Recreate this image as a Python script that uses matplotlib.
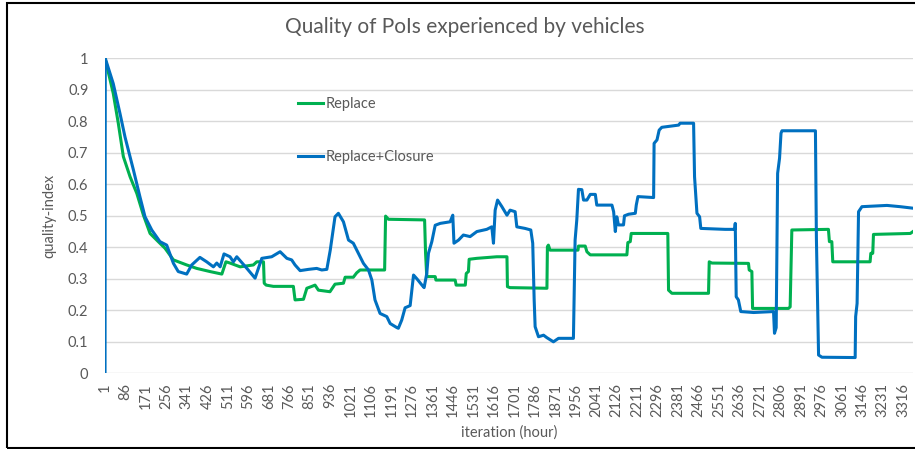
import numpy as np
import matplotlib.pyplot as plt

# values (iteration, quality-index) breakpoints
replace_x = [1, 35, 56, 77, 105, 133, 160, 188, 222, 250, 285, 340, 382, 437, 486, 503,
             520, 562, 617, 631, 659, 662, 670, 700, 783, 790, 825, 839, 860, 873, 887,
             935, 956, 991, 998, 1032, 1046, 1060, 1162, 1166, 1178, 1328, 1332, 1337,
             1372, 1375, 1455, 1459, 1497, 1501, 1510, 1513, 1545, 1628, 1670, 1672,
             1683, 1836, 1838, 1842, 1849, 1965, 1967, 1995, 2002, 2016, 2168, 2172,
             2182, 2186, 2338, 2341, 2355, 2507, 2510, 2521, 2673, 2676, 2687, 2690,
             2839, 2846, 2853, 3005, 3009, 3019, 3023, 3178, 3181, 3189, 3192, 3345, 3356]
replace_y = [1.0, 0.889, 0.794, 0.688, 0.624, 0.571, 0.503, 0.444, 0.418, 0.397, 0.36,
             0.344, 0.333, 0.323, 0.315, 0.354, 0.35, 0.338, 0.344, 0.354, 0.354, 0.286,
             0.28, 0.276, 0.276, 0.233, 0.235, 0.27, 0.276, 0.28, 0.264, 0.259, 0.283,
             0.286, 0.305, 0.305, 0.319, 0.328, 0.328, 0.499, 0.489, 0.487, 0.381, 0.307,
             0.307, 0.296, 0.296, 0.28, 0.28, 0.317, 0.323, 0.362, 0.365, 0.37, 0.37,
             0.275, 0.272, 0.27, 0.402, 0.407, 0.391, 0.391, 0.404, 0.404, 0.386, 0.376,
             0.376, 0.415, 0.418, 0.444, 0.444, 0.264, 0.254, 0.254, 0.354, 0.35, 0.349,
             0.328, 0.323, 0.206, 0.206, 0.211, 0.455, 0.457, 0.418, 0.418, 0.354, 0.354,
             0.381, 0.381, 0.441, 0.444, 0.45]

closure_x = [1, 2, 35, 63, 84, 119, 146, 167, 195, 229, 257, 285, 305, 340, 361, 395,
             423, 451, 465, 479, 495, 520, 534, 548, 590, 624, 645, 652, 693, 728, 756,
             776, 790, 811, 846, 880, 901, 922, 936, 956, 970, 991, 1012, 1032, 1053,
             1074, 1095, 1109, 1122, 1143, 1171, 1185, 1213, 1219, 1233, 1247, 1268,
             1282, 1296, 1317, 1326, 1337, 1344, 1358, 1372, 1393, 1434, 1445, 1450,
             1469, 1489, 1517, 1545, 1586, 1607, 1614, 1621, 1631, 1649, 1670, 1683,
             1704, 1711, 1745, 1769, 1777, 1783, 1787, 1801, 1822, 1836, 1863, 1884,
             1946, 1953, 1960, 1967, 1981, 1988, 2002, 2016, 2037, 2043, 2106, 2113,
             2120, 2126, 2133, 2154, 2158, 2175, 2203, 2207, 2214, 2279, 2281, 2293,
             2302, 2313, 2383, 2389, 2445, 2449, 2459, 2470, 2475, 2576, 2616, 2618,
             2622, 2631, 2641, 2694, 2777, 2781, 2788, 2794, 2802, 2808, 2812, 2951,
             2955, 2960, 2964, 2978, 3116, 3118, 3124, 3130, 3144, 3248, 3303, 3358]
closure_y = [0.0, 1.0, 0.92, 0.825, 0.75, 0.645, 0.56, 0.497, 0.455, 0.418, 0.407,
             0.349, 0.323, 0.315, 0.344, 0.368, 0.354, 0.338, 0.35, 0.338, 0.379, 0.37,
             0.354, 0.37, 0.333, 0.302, 0.349, 0.365, 0.37, 0.386, 0.365, 0.36, 0.344,
             0.326, 0.33, 0.333, 0.328, 0.33, 0.39, 0.497, 0.508, 0.481, 0.423, 0.413,
             0.381, 0.349, 0.328, 0.296, 0.233, 0.19, 0.18, 0.158, 0.145, 0.143, 0.169,
             0.208, 0.215, 0.312, 0.30, 0.28, 0.272, 0.317, 0.381, 0.418, 0.47, 0.476,
             0.481, 0.502, 0.413, 0.423, 0.439, 0.434, 0.45, 0.457, 0.465, 0.413, 0.518,
             0.55, 0.529, 0.502, 0.518, 0.513, 0.465, 0.46, 0.455, 0.413, 0.233, 0.148,
             0.116, 0.121, 0.113, 0.10, 0.111, 0.111, 0.423, 0.487, 0.584, 0.583, 0.55,
             0.55, 0.568, 0.568, 0.534, 0.534, 0.513, 0.45, 0.497, 0.471, 0.471, 0.5,
             0.505, 0.508, 0.534, 0.561, 0.558, 0.73, 0.741, 0.772, 0.781, 0.788, 0.794,
             0.794, 0.624, 0.508, 0.497, 0.46, 0.457, 0.457, 0.476, 0.243, 0.233, 0.196,
             0.193, 0.196, 0.127, 0.145, 0.635, 0.683, 0.762, 0.77, 0.77, 0.429, 0.222,
             0.058, 0.051, 0.05, 0.18, 0.222, 0.513, 0.529, 0.533, 0.529, 0.524]

x_ticks = np.arange(1, 3317, 85)
y_ticks = np.arange(0, 1.01, 0.1)

txt = '#595959'
plt.rcParams['font.family'] = ['Lato', 'DejaVu Sans']

fig = plt.figure(figsize=(9.15, 4.49), dpi=100)
ax = fig.add_axes([0.1148, 0.1686, 0.8835, 0.7015])

ax.plot(replace_x, replace_y, color='#00B050', lw=2.2, label='Replace')
ax.plot(closure_x, closure_y, color='#0070C0', lw=2.2, label='Replace+Closure')

ax.set_xlim(1, 3358)
ax.set_ylim(0, 1)
ax.set_xticks(x_ticks)
ax.set_xticklabels([str(v) for v in x_ticks], rotation=90)
ax.set_yticks(y_ticks)
ax.set_yticklabels(['0', '0.1', '0.2', '0.3', '0.4', '0.5', '0.6', '0.7', '0.8', '0.9', '1'])
ax.tick_params(axis='both', length=0, labelsize=10.5, colors=txt)
ax.tick_params(axis='y', pad=12)
ax.tick_params(axis='x', pad=7)
ax.grid(axis='y', color='#D9D9D9', lw=1)
ax.set_axisbelow(True)
for s in ax.spines.values():
    s.set_visible(False)

ax.set_xlabel('iteration (hour)', fontsize=10.5, color=txt, labelpad=6)
ax.set_ylabel('quality-index', fontsize=10.5, color=txt, labelpad=8)
fig.text(0.508, 0.94, 'Quality of PoIs experienced by vehicles', fontsize=15,
         color=txt, ha='center', va='center')

leg = ax.legend(loc='center left', bbox_to_anchor=(0.239, 0.771), frameon=False,
                fontsize=10.5, labelspacing=2.7, handlelength=1.7, handletextpad=0.15,
                borderpad=0, borderaxespad=0)
for t in leg.get_texts():
    t.set_color(txt)

# chart frame (right edge is cut off in the original)
fig.add_artist(plt.Rectangle((0.0073, 0.003), 1.0, 0.9914, transform=fig.transFigure,
                             fill=False, ec='black', lw=1.5, clip_on=False))

fig.savefig('out.png', dpi=100)
